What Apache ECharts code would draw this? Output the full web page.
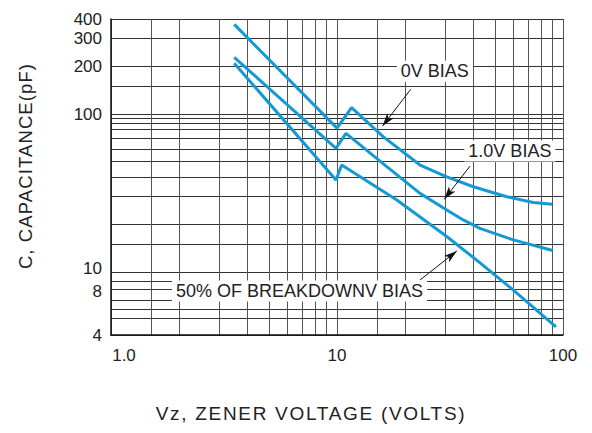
<!DOCTYPE html>
<html><head><meta charset="utf-8">
<script src="https://cdn.jsdelivr.net/npm/echarts@6/dist/echarts.min.js"></script>
<style>
html,body{margin:0;padding:0;background:#fff}
#c{width:592px;height:433px}
#c text[style*="19px"]{letter-spacing:1.7px}
#c text[style*="18.5px"]{letter-spacing:1.1px}
</style>
</head><body><div id="c"></div>
<script>
// ---- data ----
const xGridValues = [1, 1.5, 2, 3, 4, 5, 6, 7, 8, 9, 10, 15, 20, 30, 40, 50, 60, 70, 80, 90, 100];
const yGridValues = [4, 5.1, 5.8, 6.6, 7.8, 8.7, 10, 15, 20, 30, 40, 50, 60, 70, 80, 88, 94, 100, 150, 200, 300, 400];
const xTickLabels = [1, 10, 100];
const yTickLabels = [4, 8, 10, 100, 200, 300, 400];

const bias0V_x = [3.51, 10.0, 11.6, 16.0, 23.3, 30.6, 40.1, 56.4, 73.9, 89.7];
const bias0V_y = [370, 81.6, 110, 72, 47.6, 40.1, 34.7, 30.0, 27.6, 26.9];
const bias1V_x = [3.51, 9.9, 10.96, 16.6, 23.3, 30.6, 36.2, 42.9, 60.3, 90.0];
const bias1V_y = [229, 60.8, 75.6, 46.5, 31.5, 24.7, 21.4, 18.9, 16.0, 13.7];
const bias50_x = [3.51, 9.9, 10.49, 18.4, 30.6, 41.5, 60.3, 93.1];
const bias50_y = [210, 38.3, 47.6, 28.6, 16.8, 11.9, 7.7, 4.5];

const seriesNames = ['0V BIAS', '1.0V BIAS', '50% OF BREAKDOWNV BIAS'];
// annotation anchors (data space): label centre, arrow start, arrow end
const labelAnchors = [[27.1, 187], [58.2, 58.4], [6.82, 7.6]];
const arrowFrom = [[21.2, 143.6], [38.8, 46.9], [23.3, 8.92]];
const arrowTo = [[15.9, 84.1], [29.8, 28.9], [33.9, 13.6]];

const zip = (a, b) => a.map((v, i) => [v, b[i]]);
const curves = [zip(bias0V_x, bias0V_y), zip(bias1V_x, bias1V_y), zip(bias50_x, bias50_y)];

const FONT = '"Liberation Sans", Arial, sans-serif';
const BLUE = '#139AD6';
const lblStyle = { fontFamily: FONT, fontSize: 17, color: '#222' };

const chart = echarts.init(document.getElementById('c'), null, { renderer: 'svg' });
chart.setOption({
  animation: false,
  backgroundColor: '#fff',
  grid: { left: 111, right: 29, top: 19, bottom: 98, containLabel: false },
  xAxis: {
    type: 'log', logBase: 10, min: 1, max: 100,
    name: 'Vz, ZENER VOLTAGE (VOLTS)', nameLocation: 'middle', nameGap: 69,
    nameTextStyle: { fontFamily: FONT, fontSize: 19, color: '#222', padding: [0, 52, 0, 0] },
    axisLine: { show: true, lineStyle: { color: '#111', width: 1.5 } },
    axisTick: { show: false, customValues: xGridValues },
    splitLine: { show: true, lineStyle: { color: '#555', width: 1 } },
    axisLabel: Object.assign({
      customValues: xTickLabels, margin: 12,
      formatter: v => (v === 1 ? '{s|1.0}' : String(v)),
      rich: { s: Object.assign({ padding: [0, 0, 0, 26] }, lblStyle) }
    }, lblStyle)
  },
  yAxis: {
    type: 'log', logBase: 10, min: 4, max: 400,
    name: 'C, CAPACITANCE(pF)', nameLocation: 'middle', nameGap: 76, nameRotate: 90,
    nameTextStyle: { fontFamily: FONT, fontSize: 18.5, color: '#222', padding: [0, 0, 0, 22] },
    axisLine: { show: true, lineStyle: { color: '#111', width: 1.5 } },
    axisTick: { show: false, customValues: yGridValues },
    splitLine: { show: true, lineStyle: { color: '#333', width: 1 } },
    axisLabel: Object.assign({
      customValues: yTickLabels, margin: 9,
      formatter: v => (v === 10 ? '{u|10}' : v === 8 ? '{d|8}' : String(v)),
      rich: {
        u: Object.assign({ padding: [0, 0, 8, 0] }, lblStyle),
        d: Object.assign({ padding: [8, 0, 0, 0] }, lblStyle)
      }
    }, lblStyle)
  },
  series: curves.map((d, i) => ({
    name: seriesNames[i],
    type: 'line',
    data: d,
    showSymbol: false,
    symbol: 'none',
    lineStyle: { color: BLUE, width: 3 },
    z: 3,
    markPoint: {
      silent: true,
      symbol: 'rect', symbolSize: 1,
      itemStyle: { color: 'rgba(0,0,0,0)' },
      label: {
        show: true, position: 'inside',
        formatter: seriesNames[i],
        fontFamily: FONT, fontSize: 18, color: '#222',
        backgroundColor: '#fff', padding: [2, 4, 1, 4]
      },
      data: [{ coord: labelAnchors[i] }]
    },
    markLine: {
      silent: true,
      symbol: ['none', 'arrow'], symbolSize: [6, 13],
      label: { show: false },
      lineStyle: { color: '#111', width: 1, type: 'solid' },
      data: [[{ coord: arrowFrom[i] }, { coord: arrowTo[i] }]]
    }
  }))
});
</script>
</body></html>
